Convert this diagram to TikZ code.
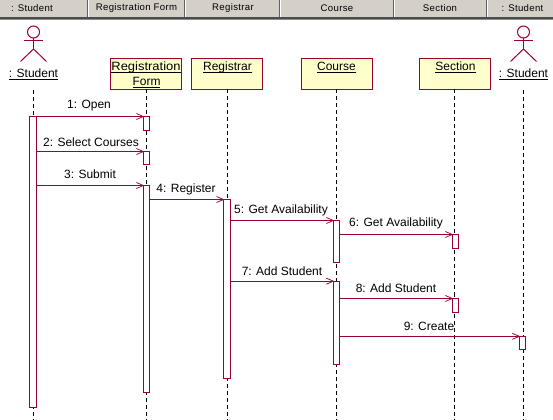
\documentclass[tikz,border=0pt]{standalone}
\usepackage{graphicx}
\usepackage{fontspec}
\setmainfont{Liberation Sans}
\newfontfamily\hdrfont[LetterSpace=3.5]{Liberation Sans}
\definecolor{umlred}{HTML}{990033}
\definecolor{umlyel}{HTML}{FFFFCC}
\definecolor{btn}{HTML}{D4D0C8}
\newcommand{\ulbl}[1]{\underline{\smash{#1}}}
\tikzset{
  lbl/.style={font=\fontsize{9pt}{12pt}\selectfont,inner sep=0pt,text=black},
  hdr/.style={font=\fontsize{7.2pt}{10pt}\hdrfont,inner sep=0pt,text=black},
  obj/.style={draw=umlred,fill=umlyel,line width=.75pt,minimum width=53.25pt,minimum height=23.25pt,inner sep=0pt,outer sep=0pt},
  act/.style={draw=umlred,fill=white,line width=.75pt,minimum width=4.7pt,inner sep=0pt,outer sep=0pt},
  actor/.style={draw=umlred,line width=.75pt},
  life/.style={draw=black,line width=.75pt,dash pattern=on 3pt off 2.25pt},
  msg/.style={draw=umlred,line width=.75pt},
  tip/.style={draw=umlred,line width=.55pt},
}
\newcommand{\arrowtip}[1]{\draw[tip] ([shift={(-7,-3)}]#1) -- (#1) -- ([shift={(-7,3)}]#1);}
\newcommand{\actorfig}[1]{%
  \draw[actor] (#1,32) circle (6);
  \draw[actor] (#1,38) -- (#1,49);
  \draw[actor] (#1-9.5,40.5) -- (#1+9.5,40.5);
  \draw[actor] (#1-13,61.5) -- (#1,49) -- (#1+13,61.5);
}
\begin{document}
\begin{tikzpicture}[x=.75pt,y=-.75pt]
\useasboundingbox (0,0) rectangle (553,420);
\fill[white] (0,0) rectangle (553,420);
% header
\fill[btn] (0,0) rectangle (553,17);
\foreach \x in {87,184,279,393,486}{
  \fill[black!62] (\x-.5,0) rectangle (\x+.5,17);
  \fill[white] (\x+.5,0) rectangle (\x+1.5,17);
}
\fill[black!70] (0,17) rectangle (553,19);
\fill[black!45] (0,19) rectangle (553,20);
\node[hdr] (h1) at (32,8) {: Student};
\node[hdr] (h2) at (136.5,8) {Registration Form};
\node[hdr] (h3) at (233,8) {Registrar};
\node[hdr] (h4) at (337,8) {Course};
\node[hdr] (h5) at (440,8) {Section};
\node[hdr] (h6) at (522.5,8) {: Student};
% actors
\actorfig{33.5}
\actorfig{523.5}
\node[lbl] (stuA) at (33.5,78.5) {\ulbl{: Student}};
\node[lbl] (stuB) at (523.5,78.5) {\ulbl{: Student}};
% objects
\node[obj] (rf) at (146,74) {};
\node[obj] (reg) at (227,74) {};
\node[obj] (crs) at (336.8,74) {};
\node[obj] (sec) at (454.8,74) {};
\node[lbl] (rfa) at (146,71.5) {\scalebox{1.08}[1]{\ulbl{Registration}}};
\node[lbl] (rfb) at (146.5,86.5) {\ulbl{Form}};
\node[lbl] (regt) at (227.5,71.5) {\ulbl{Registrar}};
\node[lbl] (crst) at (336.5,71.5) {\ulbl{Course}};
\node[lbl] (sect) at (455.5,71.5) {\ulbl{Section}};
% lifeline ends
\coordinate (eS) at (33.5,420);
\coordinate (eF) at (146,420);
\coordinate (eR) at (227.5,420);
\coordinate (eC) at (337.5,420);
\coordinate (eE) at (455.5,420);
\coordinate (eT) at (523.5,420);
\coordinate (sS) at (33.5,90);
\coordinate (sT) at (523.5,90);
\draw[life] (sS) -- (eS);
\draw[life] (rf.south) -- (eF);
\draw[life] (reg.south) -- (reg.south |- eR);
\draw[life] (crs.south) -- (crs.south |- eC);
\draw[life] (sec.south) -- (sec.south |- eE);
\draw[life] (sT) -- (eT);
% activations
\node[act,minimum width=4.9pt,minimum height=218.25pt] (aS) at (33,262) {};
\node[act,minimum height=10.5pt] (aF1) at (146.5,123.5) {};
\node[act,minimum height=9.75pt] (aF2) at (146.5,158) {};
\node[act,minimum height=155.25pt] (aF3) at (146.5,289) {};
\node[act,minimum width=5.25pt,minimum height=134.25pt] (aR) at (227,289) {};
\node[act,minimum height=31.5pt] (aC1) at (336.5,241.5) {};
\node[act,minimum height=62.25pt] (aC2) at (336.5,322.7) {};
\node[act,minimum height=10.5pt] (aE1) at (455.5,241.5) {};
\node[act,minimum height=10.5pt] (aE2) at (455.5,305.5) {};
\node[act,minimum height=10pt] (aT) at (522.5,343) {};
% messages
\newcommand{\msgline}[2]{\draw[msg] (#1.east |- #2.north west) -- (#2.north west); \arrowtip{#2.north west}}
\msgline{aS}{aF1}
\msgline{aS}{aF2}
\msgline{aS}{aF3}
\msgline{aF3}{aR}
\msgline{aR}{aC1}
\msgline{aC1}{aE1}
\msgline{aR}{aC2}
\msgline{aC2}{aE2}
\msgline{aC2}{aT}
% labels
\node[lbl] (m1) at (89,106) {1: Open};
\node[lbl] (m2) at (91,142.5) {2: Select Courses};
\node[lbl] (m3) at (90,174.5) {3: Submit};
\node[lbl] (m4) at (186,189) {4: Register};
\node[lbl] (m5) at (281,210) {5: Get Availability};
\node[lbl] (m6) at (396,223.5) {6: Get Availability};
\node[lbl] (m7) at (282,271.5) {7: Add Student};
\node[lbl] (m8) at (396,288) {8: Add Student};
\node[lbl] (m9) at (429,326) {9: Create};
\end{tikzpicture}
\end{document}
